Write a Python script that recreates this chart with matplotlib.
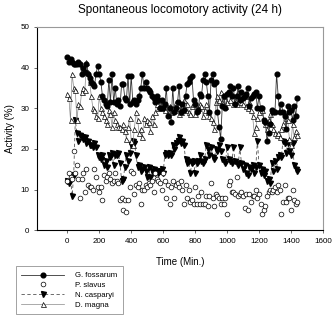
import numpy as np
import matplotlib
matplotlib.use('Agg')
import matplotlib.pyplot as plt

plt.rcParams['font.family'] = ['Liberation Sans', 'DejaVu Sans']

# activity (%) every 10 min, 0..1440
g_fossarum = [42.5, 41.5, 42, 41.5, 41, 41, 41, 41.5, 41, 38.5, 40, 39, 41, 38.5, 37.5,
              36.5, 36, 35.5, 38.5, 40.5, 38.5, 36.5, 33, 32, 31, 30.5, 37, 31.5, 38.5, 31.5,
              35, 31, 32, 30.5, 36, 36, 32.5, 32, 38, 31, 38, 31.5, 32, 31, 32,
              33, 35, 38.5, 35, 36.5, 35, 34.5, 34, 33, 32.5, 31.5, 33, 32, 30, 32,
              30, 31, 35, 28, 30, 26.5, 35, 29, 30, 31.5, 35.5, 29, 31, 29.5, 33,
              36, 36.5, 37.5, 38, 32, 31, 29, 29.5, 33.5, 33, 37, 38.5, 36.5, 33, 29,
              37, 38.5, 36, 36.5, 29, 25.5, 22.5, 30.5, 33, 30, 33.5, 34, 35.5, 33, 35,
              31, 33, 35.5, 32, 34, 32.5, 33, 33.5, 35, 30.5, 32.5, 33, 33.5, 34, 30,
              33, 30, 30, 27, 26.5, 22, 24, 26, 29.5, 29, 29, 38.5, 33, 29, 31,
              29, 28, 25, 30.5, 29, 29.5, 27, 30.5, 28, 32.5]
p_slavus = [12, 14, 13, 12.5, 19.5, 14, 16, 12.5, 8, 12.5,
            14, 9.5, 15, 11, 10.5, 10.5, 10, 15, 13, 10.5,
            9.5, 10.5, 7.5, 13.5, 12, 13, 14, 12.5, 11.5, 12,
            14, 12, 11.5, 7.5, 8, 5, 7.5, 4.5, 7.5, 10.5,
            14.5, 14, 9, 11, 10.5, 11.5, 6.5, 10, 10, 11,
            10.5, 11.5, 11, 12, 9.5, 14, 12.5, 12, 11.5, 10,
            14, 12, 8, 11, 6.5, 10.5, 12, 8, 11, 11.5,
            10.5, 12, 10, 6.5, 11, 8, 10, 7, 7.5, 6.5,
            10.5, 6.5, 8.5, 6.5, 9.5, 6.5, 6.5, 8.5, 6, 8.5,
            11.5, 8, 6, 9, 8.5, 8, 6.5, 8, 6.5, 8,
            4, 11, 12, 9.5, 9.5, 9, 13, 8.5, 9, 9.5,
            8.5, 5.5, 9, 5, 9, 7, 8.5, 8.5, 10, 8,
            9, 6.5, 4, 5, 6, 8.5, 9.5, 10, 9.5, 10,
            10.5, 9.5, 11, 10, 4, 7, 11, 7, 8, 8,
            5, 10, 7.5, 6.5, 7]
n_casparyi = [12, 11.5, 13, 8.5, 13.5, 27, 24, 22, 23.5, 23, 22.5, 23, 21.5, 22, 21,
              21, 20.5, 21.5, 20.5, 18.5, 18, 17.5, 18.5, 16, 17, 15.5, 18.5, 18, 19, 16,
              18.5, 18.5, 19, 16.5, 12, 12.5, 15.5, 18.5, 17, 19, 21, 22, 21.5, 18.5, 15.5,
              16, 14.5, 15, 15.5, 14.5, 13, 15.5, 13, 14.5, 15, 14, 14.5, 14, 14.5, 15,
              14, 18.5, 19, 18.5, 19, 18.5, 21, 20, 21.5, 22, 23, 21.5, 22, 21, 17.5,
              16.5, 17, 14, 16.5, 17, 14, 16.5, 17, 18.5, 17, 16.5, 17.5, 21, 20, 18.5,
              20.5, 18, 17.5, 20, 19.5, 21, 19.5, 17.5, 17, 16.5, 20.5, 17.5, 17, 16.5, 20.5,
              17, 16.5, 16, 20.5, 16.5, 15, 16, 14, 13.5, 15.5, 15, 16, 14, 15.5, 22,
              16, 14, 15, 13.5, 14.5, 12, 12.5, 11.5, 16.5, 14.5, 17, 15, 18, 18.5, 18,
              22, 21.5, 19, 21.5, 19.5, 18.5, 21.5, 16, 15, 14.5]
d_magna = [33.5, 32.5, 27, 38.5, 35, 34.5, 27, 31, 30.5, 34, 35, 34.5, 41.5, 39, 36.5,
           33, 30, 29.5, 28, 27.5, 33, 30, 29, 28, 27, 26, 29.5, 28.5, 25.5, 29,
           27, 26, 25.5, 25.5, 25, 26, 24.5, 22.5, 25.5, 27.5, 22, 21, 25, 29, 27,
           24, 25, 23, 27.5, 26, 27, 26.5, 24.5, 28, 26, 29, 31, 30, 32, 31,
           30, 29.5, 31, 28.5, 30.5, 29, 30, 29.5, 31.5, 30, 28.5, 29, 30.5, 32, 29.5,
           31, 29, 28.5, 30.5, 31, 28.5, 29.5, 30, 31, 30.5, 28, 29.5, 31, 29, 28,
           27.5, 26.5, 25, 31.5, 33, 32, 34, 31.5, 33, 30.5, 31.5, 34, 32, 33.5, 31,
           32, 31, 34, 32.5, 31.5, 31, 33, 30.5, 30, 31.5, 29.5, 28, 24, 25.5, 27.5,
           29, 30, 29.5, 27, 26, 25, 27, 28.5, 26, 25, 24, 23.5, 24, 23, 25,
           26, 28.5, 27.5, 27, 22.5, 21, 26, 23, 24.5, 23.5]

def times(vals):
    return np.arange(len(vals)) * 10

fig = plt.figure(figsize=(3.36, 3.21), dpi=100)
ax = fig.add_axes([0.110, 0.283, 0.851, 0.633])

ax.plot(times(n_casparyi), n_casparyi, color='#555555', ls=(0, (4, 3)), lw=0.6,
        marker='v', ms=3.6, mfc='black', mec='black', label='N. casparyi')
ax.plot(times(d_magna), d_magna, color='#888888', lw=0.5,
        marker='^', ms=3.6, mfc='white', mec='black', mew=0.5, label='D. magna')
ax.plot(times(g_fossarum), g_fossarum, color='#333333', lw=0.6,
        marker='o', ms=3.4, mfc='black', mec='black', label='G. fossarum')
ax.plot(times(p_slavus), p_slavus, ls='none',
        marker='o', ms=3.4, mfc='white', mec='black', mew=0.5, label='P. slavus')

ax.set_xlim(-190, 1600)
ax.set_ylim(0, 50)
ax.set_xticks(range(0, 1601, 200))
ax.set_yticks(range(0, 51, 10))
ax.tick_params(labelsize=5.8, length=2, width=0.6, color='#555555')
for s in ['top', 'right']:
    ax.spines[s].set_color('#999999')
for s in ax.spines.values():
    s.set_linewidth(0.8)
ax.set_xlabel('Time (Min.)', fontsize=7, labelpad=9)
ax.set_ylabel('Activity (%)', fontsize=7, labelpad=4)
ax.set_title('Spontaneous locomotory activity (24 h)', fontsize=8.5, pad=10)

h, l = ax.get_legend_handles_labels()
order = [2, 3, 0, 1]
leg = fig.legend([h[i] for i in order], [l[i] for i in order],
                 loc='lower left', bbox_to_anchor=(12 / 336, 3 / 321),
                 fontsize=5.6, frameon=True, fancybox=False, handlelength=5.5,
                 borderpad=0.7, labelspacing=0.3, handletextpad=1.4)
leg.get_frame().set_edgecolor('#777777')
leg.get_frame().set_linewidth(0.6)

fig.savefig('out.png', dpi=100)
